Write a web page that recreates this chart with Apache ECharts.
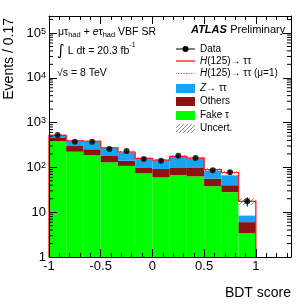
<!DOCTYPE html>
<html><head><meta charset="utf-8">
<script src="https://cdn.jsdelivr.net/npm/echarts@6/dist/echarts.min.js"></script>
<style>html,body{margin:0;padding:0;background:#fff}#c{width:307px;height:307px}</style>
</head><body><div id="c"></div>
<script>
// ---- data ----
const binEdges = [-1, -0.8333, -0.6667, -0.5, -0.3333, -0.1667, 0, 0.1667, 0.3333, 0.5, 0.6667, 0.8333, 1];
const fakeTau  = [388, 224, 189, 130, 108, 74, 60, 67, 63, 38, 28, 3.4];
const others   = [65, 76, 65, 50, 33, 26, 32, 33, 37, 18, 12, 2.6];
const ztautau  = [64, 91, 127, 92, 77, 56, 51, 73, 57, 29, 27, 2.5];
const signal   = [3, 3, 3, 3, 3, 3, 3, 4, 5, 4, 10, 9];
const dataVals = [529, 375, 375, 257, 232, 154, 141, 181, 162, 86, 78, 17.5];
const dataErr  = [23, 19, 19, 16, 15, 12, 12, 13, 13, 9, 9, 4.2];
const uncert   = [25, 18, 18, 14, 12, 9, 9, 11, 10, 7, 6, 3];
const xTicks = [-1, -0.5, 0, 0.5, 1];
const xTickLabels = ['-1', '-0.5', '0', '0.5', '1'];
const yTicks = [1, 10, 100, 1000, 10000, 100000];
const yTickLabels = ['1', '10', '10{s|2}', '10{s|3}', '10{s|4}', '10{s|5}'];

const FONT = 'Liberation Sans, Arial, Helvetica, sans-serif';
const C_BLUE = '#14a6f5', C_RED = '#8c1212', C_GREEN = '#00ff00';
const X_MIN = -1, X_MAX = 1.34, Y_MIN = 1, Y_MAX = 240000;

// stacks
const nb = fakeTau.length;
const s1 = fakeTau.slice();
const s2 = s1.map((v, i) => v + others[i]);
const s3 = s2.map((v, i) => v + ztautau[i]);
const s4 = s3.map((v, i) => v + signal[i]);

// hatch pattern
const pc = document.createElement('canvas'); pc.width = 4; pc.height = 4;
const pg = pc.getContext('2d'); pg.strokeStyle = '#777'; pg.lineWidth = 0.8;
pg.beginPath(); pg.moveTo(0, 4); pg.lineTo(4, 0); pg.moveTo(-1, 1); pg.lineTo(1, -1); pg.moveTo(3, 5); pg.lineTo(5, 3); pg.stroke();
const hatch = { type: 'pattern', image: pc, repeat: 'repeat' };

function rectSeries(name, lower, upper, fill, z) {
  return {
    type: 'custom', name, z: z || 2, silent: true,
    data: lower.map((l, i) => [binEdges[i], binEdges[i + 1], l, upper[i]]),
    encode: { x: [0, 1], y: [2, 3] },
    renderItem: (p, api) => {
      const a = api.coord([api.value(0), api.value(3)]);
      const b = api.coord([api.value(1), api.value(2)]);
      return { type: 'rect', shape: { x: a[0], y: a[1], width: b[0] - a[0], height: b[1] - a[1] }, style: { fill: fill, stroke: null } };
    }
  };
}
function outlineSeries(top, stroke, width, dash, z) {
  return {
    type: 'custom', silent: true, z: z,
    data: [[0]],
    renderItem: (p, api) => {
      const pts = [api.coord([binEdges[0], Y_MIN])];
      for (let i = 0; i < nb; i++) {
        pts.push(api.coord([binEdges[i], top[i]]));
        pts.push(api.coord([binEdges[i + 1], top[i]]));
      }
      pts.push(api.coord([binEdges[nb], Y_MIN]));
      return { type: 'polyline', shape: { points: pts }, style: { stroke: stroke, lineWidth: width, fill: null, lineDash: dash } };
    }
  };
}
const minorVals = [];
for (let k = 0; k < 6; k++) for (let m = 2; m <= 9; m++) { const v = m * Math.pow(10, k); if (v < Y_MAX) minorVals.push(v); }

const xCommon = {
  type: 'value', min: X_MIN, max: X_MAX, interval: 0.5, z: 10,
  axisLine: { show: true, onZero: false, lineStyle: { color: '#000', width: 1 } },
  axisTick: { show: true, inside: true, length: 8, lineStyle: { color: '#000', width: 1 } },
  minorTick: { show: true, splitNumber: 5, length: 4, lineStyle: { color: '#000', width: 1 } },
  splitLine: { show: false }, minorSplitLine: { show: false }
};
const yCommon = {
  type: 'log', logBase: 10, min: Y_MIN, max: Y_MAX, z: 10,
  axisLine: { show: true, onZero: false, lineStyle: { color: '#000', width: 1 } },
  axisTick: { show: true, inside: true, length: 8, lineStyle: { color: '#000', width: 1 } },
  splitLine: { show: false }
};

const option = {
  animation: false,
  backgroundColor: '#fff',
  grid: { left: 49, right: 16, top: 16, bottom: 50, show: false },
  xAxis: [
    Object.assign({}, xCommon, { position: 'bottom',
      axisLabel: { show: true, color: '#000', fontFamily: FONT, fontSize: 13, margin: 3, showMaxLabel: true,
        formatter: v => { const i = xTicks.findIndex(t => Math.abs(t - v) < 1e-6); return i >= 0 ? xTickLabels[i] : ''; } } }),
    Object.assign({}, xCommon, { position: 'top', axisLabel: { show: false } })
  ],
  yAxis: [
    Object.assign({}, yCommon, { position: 'left',
      axisLabel: { show: true, color: '#000', fontFamily: FONT, fontSize: 13, margin: 3,
        formatter: v => { const i = yTicks.findIndex(t => Math.abs(t - v) / t < 1e-6); return i >= 0 ? yTickLabels[i] : ''; },
        rich: { s: { fontSize: 9, fontFamily: FONT, color: '#000', verticalAlign: 'top', lineHeight: 9, padding: [0, 0, 6, 0] } } } }),
    Object.assign({}, yCommon, { position: 'right', axisLabel: { show: false } })
  ],
  series: [
    rectSeries('Fake', fakeTau.map(() => Y_MIN), s1, C_GREEN, 2),
    rectSeries('Others', s1, s2, C_RED, 2),
    rectSeries('Ztautau', s2, s3, C_BLUE, 2),
    rectSeries('Signal', s3, s4, '#ffffff', 2),
    rectSeries('Uncert', s4.map((v, i) => v - uncert[i]), s4.map((v, i) => v + uncert[i]), hatch, 3),
    outlineSeries(s4, '#ff0000', 1.2, null, 4),
    outlineSeries(s4, '#ff6666', 0.8, [1, 2], 4),
    {
      type: 'custom', silent: true, z: 5,
      data: dataVals.map((v, i) => [(binEdges[i] + binEdges[i + 1]) / 2, v - dataErr[i], v + dataErr[i]]),
      encode: { x: 0, y: [1, 2] },
      renderItem: (p, api) => {
        const a = api.coord([api.value(0), api.value(1)]);
        const b = api.coord([api.value(0), api.value(2)]);
        return { type: 'line', shape: { x1: a[0], y1: a[1], x2: b[0], y2: b[1] }, style: { stroke: '#000', lineWidth: 1 } };
      }
    },
    {
      type: 'scatter', z: 6, silent: true, symbol: 'circle', symbolSize: 6,
      itemStyle: { color: '#000' },
      data: dataVals.map((v, i) => [(binEdges[i] + binEdges[i + 1]) / 2, v])
    },
    {
      type: 'custom', silent: true, z: 11,
      data: minorVals.map(v => [0, v]),
      encode: { x: 0, y: 1 },
      renderItem: (p, api) => {
        const cs = p.coordSys;
        const y = api.coord([0, api.value(1)])[1];
        return { type: 'group', children: [
          { type: 'line', shape: { x1: cs.x, y1: y, x2: cs.x + 4, y2: y }, style: { stroke: '#000', lineWidth: 1 } },
          { type: 'line', shape: { x1: cs.x + cs.width - 4, y1: y, x2: cs.x + cs.width, y2: y }, style: { stroke: '#000', lineWidth: 1 } }
        ] };
      }
    }
  ],
  graphic: [
    // axis titles
    { type: 'text', x: 291, y: 293, style: { text: 'BDT score', font: '14px ' + FONT, fill: '#000', align: 'right', verticalAlign: 'middle' } },
    { type: 'text', x: 9, y: 18, rotation: Math.PI / 2, style: { text: 'Events / 0.17', font: '14px ' + FONT, fill: '#000', align: 'right', verticalAlign: 'middle' } },
    // channel text
    { type: 'text', x: 58, y: 32, style: {
      text: '{n|μτ}{b|had}{n| + }{i|e}{n|τ}{b|had}{n| VBF SR}', verticalAlign: 'middle', align: 'left',
      rich: {
        n: { fontSize: 10.5, fontFamily: FONT, fill: '#000', lineHeight: 14, verticalAlign: 'middle' },
        i: { fontSize: 10.5, fontFamily: FONT, fontStyle: 'italic', fill: '#000', lineHeight: 14, verticalAlign: 'middle' },
        b: { fontSize: 7.5, fontFamily: FONT, fill: '#000', lineHeight: 8, verticalAlign: 'bottom' }
      } } },
    { type: 'text', x: 57, y: 51, style: {
      text: '{g|∫}{n| L dt = 20.3 fb}{s|-1}', verticalAlign: 'middle', align: 'left',
      rich: {
        g: { fontSize: 15, fontFamily: 'DejaVu Sans', fill: '#000', lineHeight: 18, verticalAlign: 'middle' },
        n: { fontSize: 10.5, fontFamily: FONT, fill: '#000', lineHeight: 18, verticalAlign: 'middle' },
        s: { fontSize: 7, fontFamily: FONT, fill: '#000', lineHeight: 12, verticalAlign: 'top' }
      } } },
    { type: 'text', x: 57, y: 73, style: { text: '√s = 8 TeV', font: '10.5px ' + FONT, fill: '#000', align: 'left', verticalAlign: 'middle' } },
    // ATLAS
    { type: 'text', x: 191, y: 30, style: {
      text: '{a|ATLAS} {p|Preliminary}', verticalAlign: 'middle', align: 'left',
      rich: {
        a: { fontSize: 11, fontFamily: FONT, fontWeight: 'bold', fontStyle: 'italic', fill: '#000' },
        p: { fontSize: 11, fontFamily: FONT, fill: '#000' }
      } } },
    // legend symbols
    { type: 'line', shape: { x1: 176, y1: 49, x2: 195, y2: 49 }, style: { stroke: '#000', lineWidth: 1 } },
    { type: 'circle', shape: { cx: 185.5, cy: 49, r: 3 }, style: { fill: '#000' } },
    { type: 'line', shape: { x1: 176, y1: 61, x2: 195, y2: 61 }, style: { stroke: '#ff0000', lineWidth: 1.2 } },
    { type: 'line', shape: { x1: 176, y1: 73.5, x2: 195, y2: 73.5 }, style: { stroke: '#ff0000', lineWidth: 0.8, lineDash: [1, 1.5] } },
    { type: 'rect', shape: { x: 176, y: 84, width: 19, height: 9 }, style: { fill: C_BLUE } },
    { type: 'rect', shape: { x: 176, y: 97, width: 19, height: 9 }, style: { fill: C_RED } },
    { type: 'rect', shape: { x: 176, y: 111, width: 19, height: 9 }, style: { fill: C_GREEN } },
    { type: 'rect', shape: { x: 176, y: 124, width: 19, height: 9 }, style: { fill: hatch } },
    // legend texts
    { type: 'text', x: 200, y: 49, style: { text: 'Data', font: '10px ' + FONT, fill: '#000', verticalAlign: 'middle' } },
    { type: 'text', x: 200, y: 61, style: { text: '{i|H}{n|(125)→ ττ}', verticalAlign: 'middle',
      rich: { i: { fontSize: 10, fontFamily: FONT, fontStyle: 'italic', fill: '#000' }, n: { fontSize: 10, fontFamily: FONT, fill: '#000' } } } },
    { type: 'text', x: 200, y: 73.5, style: { text: '{i|H}{n|(125)→ ττ (μ=1)}', verticalAlign: 'middle',
      rich: { i: { fontSize: 10, fontFamily: FONT, fontStyle: 'italic', fill: '#000' }, n: { fontSize: 10, fontFamily: FONT, fill: '#000' } } } },
    { type: 'text', x: 200, y: 88.5, style: { text: '{i|Z}{n|→ ττ}', verticalAlign: 'middle',
      rich: { i: { fontSize: 10, fontFamily: FONT, fontStyle: 'italic', fill: '#000' }, n: { fontSize: 10, fontFamily: FONT, fill: '#000' } } } },
    { type: 'text', x: 200, y: 101.5, style: { text: 'Others', font: '10px ' + FONT, fill: '#000', verticalAlign: 'middle' } },
    { type: 'text', x: 200, y: 115.5, style: { text: 'Fake τ', font: '10px ' + FONT, fill: '#000', verticalAlign: 'middle' } },
    { type: 'text', x: 200, y: 128.5, style: { text: 'Uncert.', font: '10px ' + FONT, fill: '#000', verticalAlign: 'middle' } }
  ]
};
const chart = echarts.init(document.getElementById('c'), null, { renderer: 'canvas' });
chart.setOption(option);
</script>
</body></html>
